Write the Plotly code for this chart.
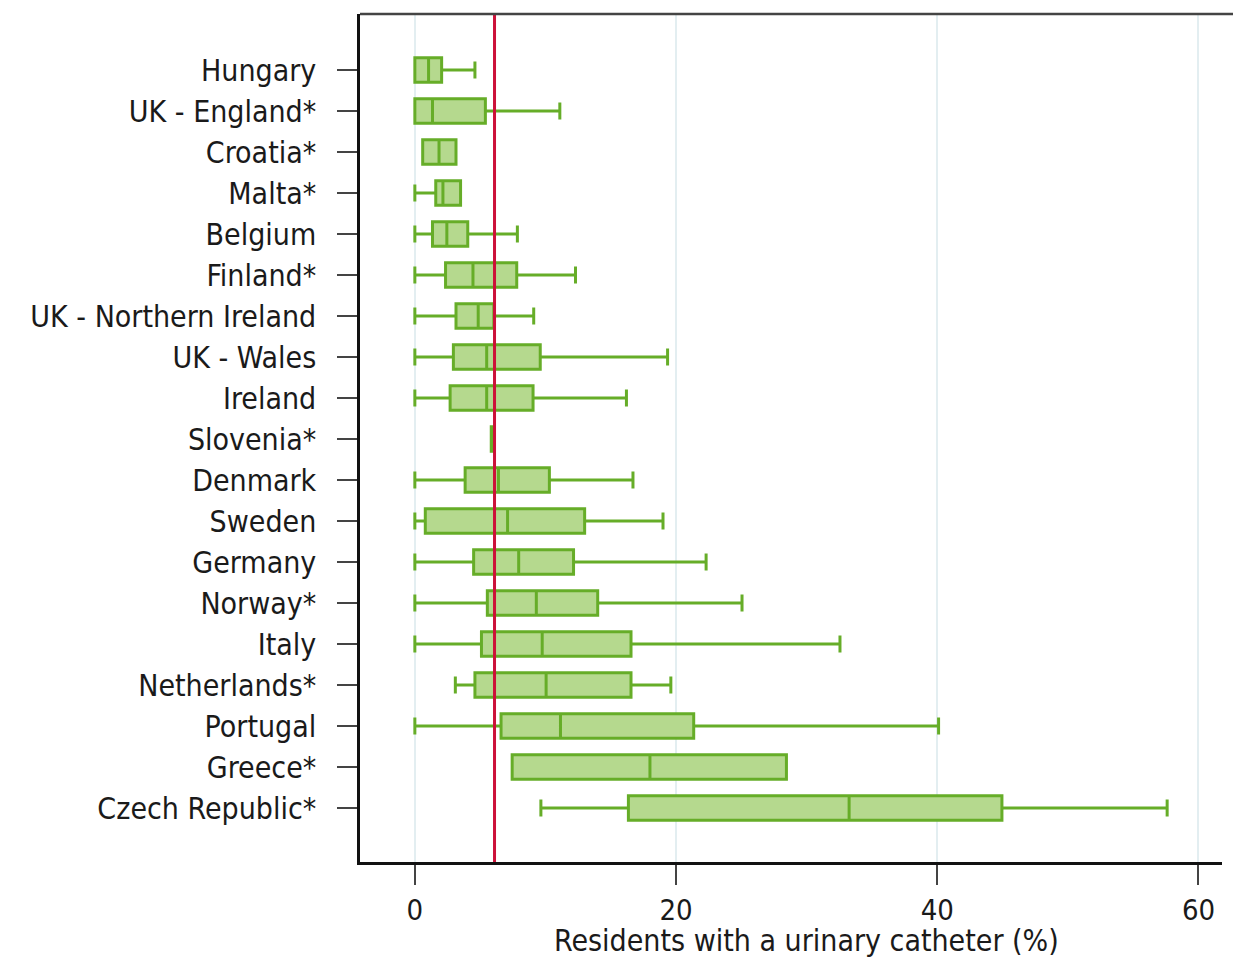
import plotly.graph_objects as go

countries = ["Hungary", "UK - England*", "Croatia*", "Malta*", "Belgium", "Finland*",
             "UK - Northern Ireland", "UK - Wales", "Ireland", "Slovenia*", "Denmark",
             "Sweden", "Germany", "Norway*", "Italy", "Netherlands*", "Portugal",
             "Greece*", "Czech Republic*"]
minimum = [0.0, 0.0, 0.6, 0.0, 0.0, 0.0, 0.0, 0.0, 0.0, 5.85, 0.0, 0.0, 0.0, 0.0, 0.0, 3.1, 0.0, 7.45, 9.65]
q1 = [0.0, 0.0, 0.6, 1.6, 1.35, 2.35, 3.15, 2.95, 2.7, 5.85, 3.85, 0.8, 4.5, 5.55, 5.1, 4.6, 6.6, 7.45, 16.35]
median = [1.05, 1.35, 1.85, 2.15, 2.45, 4.45, 4.85, 5.5, 5.5, 5.95, 6.4, 7.1, 7.95, 9.3, 9.75, 10.05, 11.15, 18.0, 33.25]
q3 = [2.05, 5.4, 3.15, 3.5, 4.05, 7.8, 6.05, 9.6, 9.05, 6.05, 10.3, 13.0, 12.15, 14.0, 16.55, 16.55, 21.35, 28.45, 44.95]
maximum = [4.6, 11.1, 3.15, 3.5, 7.85, 12.3, 9.1, 19.35, 16.2, 6.05, 16.7, 19.0, 22.3, 25.05, 32.55, 19.6, 40.1, 28.45, 57.6]
reference_value = 6.1
x_ticks = [0, 20, 40, 60]
x_title = "Residents with a urinary catheter (%)"

FONT = "DejaVu Sans Condensed, DejaVu Sans, Verdana, sans-serif"

fig = go.Figure()
fig.add_trace(go.Box(
    y=countries, q1=q1, median=median, q3=q3,
    lowerfence=minimum, upperfence=maximum,
    orientation="h", boxpoints=False,
    fillcolor="#b5d98e", line=dict(color="#66ad28", width=3),
    width=0.6, whiskerwidth=0.7, showlegend=False,
))

fig.add_shape(type="line", xref="x", yref="paper", x0=reference_value, x1=reference_value,
              y0=0, y1=1, line=dict(color="#cc1139", width=3), layer="above")
fig.add_shape(type="line", xref="paper", yref="paper", x0=0, x1=1.03, y0=1, y1=1,
              line=dict(color="#444444", width=2.5), layer="above")

fig.add_annotation(text=x_title, xref="x", yref="paper", x=30, y=0,
                   xanchor="center", yanchor="middle", yshift=-78, showarrow=False,
                   font=dict(family=FONT, size=30, color="#1a1a1a"))

n = len(countries)
fig.update_layout(
    width=1233, height=949,
    margin=dict(l=352, r=19, t=6, b=95, autoexpand=False),
    plot_bgcolor="white", paper_bgcolor="white",
    font=dict(family=FONT, size=30, color="#1a1a1a"),
    xaxis=dict(range=[-4.2, 61.8], tickvals=x_ticks, showgrid=True,
               gridcolor="#e3eef1", gridwidth=1.5, zeroline=False,
               showline=True, linecolor="#111111", linewidth=2.5,
               ticks="outside", ticklen=20, tickwidth=2, tickcolor="#444444",
               tickfont=dict(size=29), automargin=False),
    yaxis=dict(type="category", categoryorder="array", categoryarray=countries,
               range=[n - 1 + 54 / 41, -56 / 41], showgrid=False, zeroline=False,
               showline=True, linecolor="#111111", linewidth=2.5,
               ticks="outside", ticklen=20, tickwidth=2, tickcolor="#444444",
               ticklabelstandoff=15, tickfont=dict(size=30), automargin=False),
)

fig.write_html("out.html")
